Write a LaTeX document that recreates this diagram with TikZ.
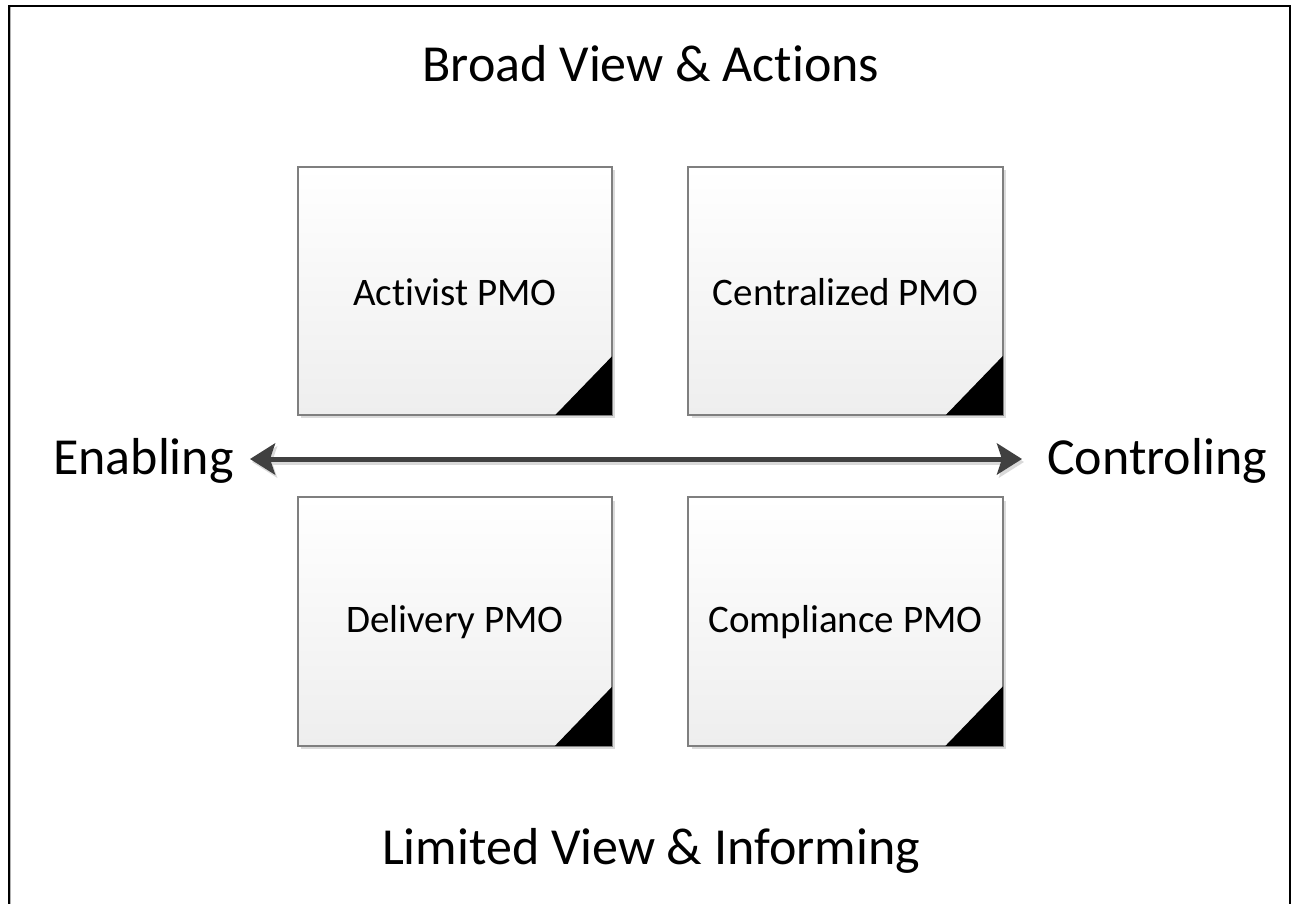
\documentclass[tikz,border=0pt]{standalone}
\usepackage{fontspec}
\setmainfont{Carlito}[Ligatures=NoCommon]
\usetikzlibrary{arrows.meta,shadows}
\definecolor{boxedge}{HTML}{7F7F7F}
\definecolor{boxbot}{HTML}{EEEEEE}
\definecolor{arrowcol}{HTML}{404040}
\tikzset{
  pmobox/.style={draw=boxedge, line width=1.3pt, minimum width=314pt, minimum height=248pt,
    top color=white, bottom color=boxbot, inner sep=0pt,
    drop shadow={shadow xshift=3pt, shadow yshift=-3pt, fill=black!14, opacity=1}},
  boxtext/.style={font=\fontsize{39}{47}\selectfont, text=black, inner sep=0pt},
  bigtext/.style={font=\fontsize{52}{62}\selectfont, text=black, inner sep=0pt, anchor=base},
  axis/.style={line width=5pt, draw=arrowcol, {Stealth[length=25pt,width=31pt,inset=5pt]}-{Stealth[length=25pt,width=31pt,inset=5pt]}},
}
\begin{document}
\begin{tikzpicture}[x=1pt,y=-1pt]
\useasboundingbox (0,0) rectangle (1294,903);
\fill[white] (0,0) rectangle (1294,903);
% outer frame
\draw[black!30, line width=1pt] (10.5,7) -- (10.5,910);
\draw[black, line width=2.5pt] (9,6) rectangle (1290,912);
% titles
\node[bigtext] (top) at (651,81) {Broad View \& Actions};
\node[bigtext] (bottom) at (651,864) {Limited View \& Informing};
\node[bigtext, anchor=base west] (left) at (53,474) {Enabling};
\node[bigtext, anchor=base west] (right) at (1047,474) {Controling};
% boxes
\node[pmobox] (a) at (455,291) {};
\node[pmobox] (c) at (845.5,291) {};
\node[pmobox] (d) at (455,621.5) {};
\node[pmobox] (e) at (845.5,621.5) {};
\foreach \b in {a,c,d,e}{
  \fill[black] ([xshift=-58pt]\b.south east) -- (\b.south east) -- ([yshift=60pt]\b.south east) -- cycle;
  \draw[boxedge, line width=1.3pt] (\b.south west) rectangle (\b.north east);
}
\node[boxtext] (ta) at (455,292) {Activist PMO};
\node[boxtext] (tc) at (845.5,292) {Centralized PMO};
\node[boxtext] (td) at (455,622.5) {Delivery PMO};
\node[boxtext] (te) at (845.5,622.5) {Compliance PMO};
% axis arrow
\coordinate (pl) at (250,459);
\coordinate (pr) at (1022,459);
\coordinate (sl) at (252,462);
\coordinate (sr) at (1024,462);
\draw[axis, draw=black!15, fill=black!15] (sl) -- (sr);
\draw[axis, fill=arrowcol] (pl) -- (pr);
\end{tikzpicture}
\end{document}
